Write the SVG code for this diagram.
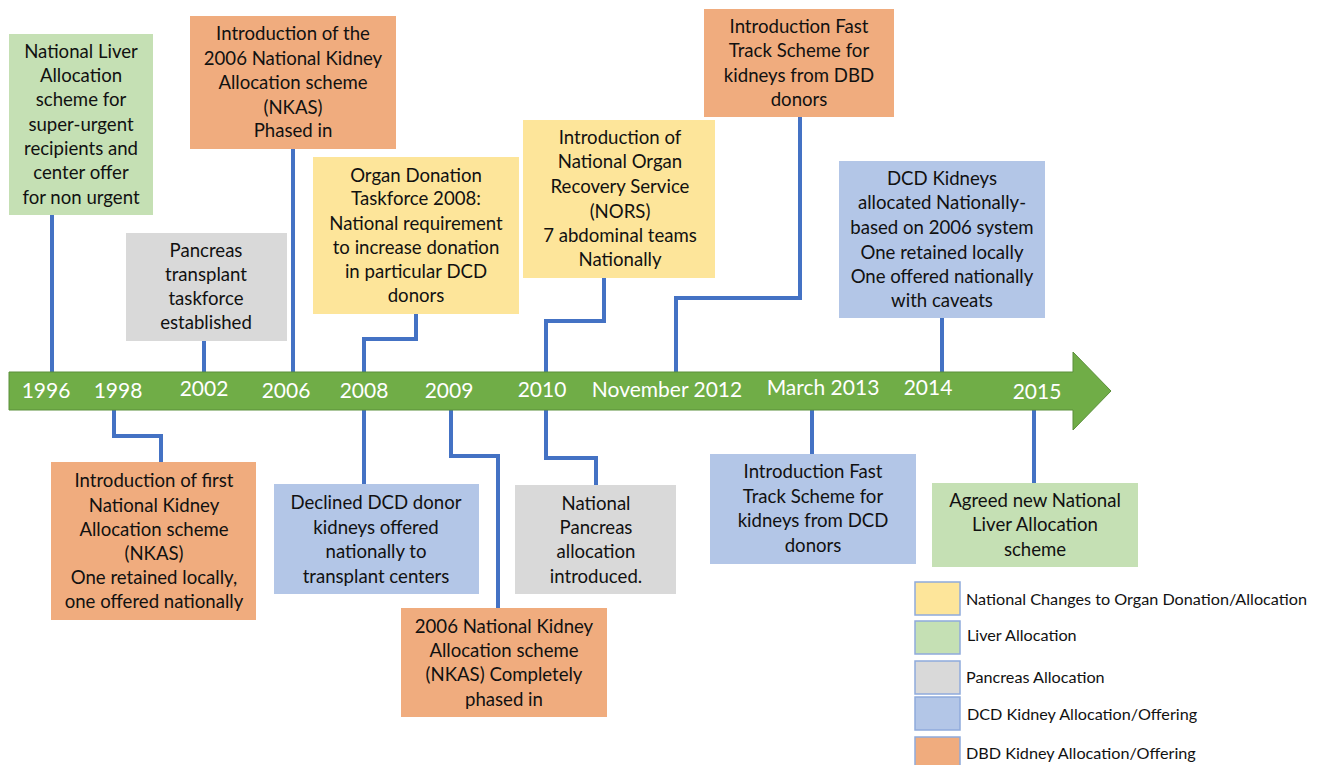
<svg xmlns="http://www.w3.org/2000/svg" width="1322" height="765" viewBox="0 0 1322 765">
<style>
.t{font-family:Lato,"Liberation Sans",sans-serif;font-size:18.6px;fill:#111;text-anchor:middle}
.y{font-family:Lato,"Liberation Sans",sans-serif;font-size:21px;fill:#fff;text-anchor:middle}
.l{font-family:Lato,"Liberation Sans",sans-serif;font-size:16.2px;fill:#111}
.c{fill:none;stroke:#4472C4;stroke-width:4}
.or{fill:#F0AC7E}.ye{fill:#FDE59A}.gr{fill:#C5E0B4}.gy{fill:#D9D9D9}.bl{fill:#B3C6E7}
.lg{stroke:#8FAADC;stroke-width:1.5}
</style>
<rect width="1322" height="765" fill="#fff"/>
<g id="connectors">
<path class="c" d="M52 215V372"/>
<path class="c" d="M204 341V372"/>
<path class="c" d="M293 149V372"/>
<path class="c" d="M416 314V339H364V372"/>
<path class="c" d="M604 278V321H546V372"/>
<path class="c" d="M800 117V298H676V372"/>
<path class="c" d="M942 318V372"/>
<path class="c" d="M114 410V436H161V462"/>
<path class="c" d="M364 410V484"/>
<path class="c" d="M451 410V456H498V608"/>
<path class="c" d="M546 410V458H596V485"/>
<path class="c" d="M812 410V454"/>
<path class="c" d="M1034 410V483"/>
</g>
<g id="timeline">
<path d="M9 372H1073V352L1111 391L1073 430V410H9Z" fill="#70AD47" stroke="#5B8F3A" stroke-width="1"/>
<text class="y" x="46" y="398">1996</text>
<text class="y" x="118" y="398">1998</text>
<text class="y" x="204" y="396">2002</text>
<text class="y" x="286" y="398">2006</text>
<text class="y" x="364" y="398">2008</text>
<text class="y" x="449" y="398">2009</text>
<text class="y" x="542" y="397">2010</text>
<text class="y" x="667" y="397">November 2012</text>
<text class="y" x="823" y="395">March 2013</text>
<text class="y" x="928" y="395">2014</text>
<text class="y" x="1037" y="399">2015</text>
</g>
<g id="n1"><rect class="gr" x="9" y="34" width="144" height="181"/>
<text class="t" x="81"><tspan x="81" y="58">National Liver</tspan><tspan x="81" y="82">Allocation</tspan><tspan x="81" y="106">scheme for</tspan><tspan x="81" y="131">super-urgent</tspan><tspan x="81" y="155">recipients and</tspan><tspan x="81" y="179">center offer</tspan><tspan x="81" y="204">for non urgent</tspan></text></g>
<g id="n2"><rect class="or" x="190" y="16" width="206" height="133"/>
<text class="t"><tspan x="293" y="40">Introduction of the</tspan><tspan x="293" y="65">2006 National Kidney</tspan><tspan x="293" y="89">Allocation scheme</tspan><tspan x="293" y="114">(NKAS)</tspan><tspan x="293" y="137">Phased in</tspan></text></g>
<g id="n3"><rect class="gy" x="126" y="233" width="161" height="108"/>
<text class="t"><tspan x="206" y="257">Pancreas</tspan><tspan x="206" y="281">transplant</tspan><tspan x="206" y="305">taskforce</tspan><tspan x="206" y="329">established</tspan></text></g>
<g id="n4"><rect class="ye" x="313" y="157" width="206" height="157"/>
<text class="t"><tspan x="416" y="182">Organ Donation</tspan><tspan x="416" y="205">Taskforce 2008:</tspan><tspan x="416" y="230">National requirement</tspan><tspan x="416" y="254">to increase donation</tspan><tspan x="416" y="278">in particular DCD</tspan><tspan x="416" y="302">donors</tspan></text></g>
<g id="n5"><rect class="ye" x="523" y="120" width="192" height="158"/>
<text class="t"><tspan x="620" y="144">Introduction of</tspan><tspan x="620" y="168">National Organ</tspan><tspan x="620" y="193">Recovery Service</tspan><tspan x="620" y="218">(NORS)</tspan><tspan x="620" y="242">7 abdominal teams</tspan><tspan x="620" y="266">Nationally</tspan></text></g>
<g id="n6"><rect class="or" x="704" y="9" width="190" height="108"/>
<text class="t"><tspan x="799" y="33">Introduction Fast</tspan><tspan x="799" y="57">Track Scheme for</tspan><tspan x="799" y="82">kidneys from DBD</tspan><tspan x="799" y="106">donors</tspan></text></g>
<g id="n7"><rect class="bl" x="839" y="161" width="206" height="157"/>
<text class="t"><tspan x="942" y="185">DCD Kidneys</tspan><tspan x="942" y="209">allocated Nationally-</tspan><tspan x="942" y="234">based on 2006 system</tspan><tspan x="942" y="259">One retained locally</tspan><tspan x="942" y="283">One offered nationally</tspan><tspan x="942" y="307">with caveats</tspan></text></g>
<g id="n8"><rect class="or" x="51" y="462" width="205" height="158"/>
<text class="t"><tspan x="154" y="487">Introduction of first</tspan><tspan x="154" y="512">National Kidney</tspan><tspan x="154" y="536">Allocation scheme</tspan><tspan x="154" y="560">(NKAS)</tspan><tspan x="154" y="584">One retained locally,</tspan><tspan x="154" y="608">one offered nationally</tspan></text></g>
<g id="n9"><rect class="bl" x="274" y="484" width="205" height="110"/>
<text class="t"><tspan x="376" y="509">Declined DCD donor</tspan><tspan x="376" y="534">kidneys offered</tspan><tspan x="376" y="558">nationally to</tspan><tspan x="376" y="583">transplant centers</tspan></text></g>
<g id="n10"><rect class="gy" x="515" y="485" width="161" height="109"/>
<text class="t"><tspan x="596" y="510">National</tspan><tspan x="596" y="534">Pancreas</tspan><tspan x="596" y="558">allocation</tspan><tspan x="596" y="583">introduced.</tspan></text></g>
<g id="n11"><rect class="or" x="401" y="608" width="206" height="109"/>
<text class="t"><tspan x="504" y="633">2006 National Kidney</tspan><tspan x="504" y="657">Allocation scheme</tspan><tspan x="504" y="681">(NKAS) Completely</tspan><tspan x="504" y="706">phased in</tspan></text></g>
<g id="n12"><rect class="bl" x="710" y="454" width="206" height="110"/>
<text class="t"><tspan x="813" y="478">Introduction Fast</tspan><tspan x="813" y="503">Track Scheme for</tspan><tspan x="813" y="527">kidneys from DCD</tspan><tspan x="813" y="552">donors</tspan></text></g>
<g id="n13"><rect class="gr" x="932" y="483" width="206" height="84"/>
<text class="t"><tspan x="1035" y="507">Agreed new National</tspan><tspan x="1035" y="531">Liver Allocation</tspan><tspan x="1035" y="556">scheme</tspan></text></g>
<g id="legend">
<rect class="ye lg" x="915" y="582" width="45" height="33"/>
<rect class="gr lg" x="915" y="621" width="45" height="33"/>
<rect class="gy lg" x="915" y="661" width="45" height="33"/>
<rect class="bl lg" x="915" y="697" width="45" height="33"/>
<rect class="or lg" x="915" y="737" width="45" height="33"/>
<text class="l" x="966" y="605">National Changes to Organ Donation/Allocation</text>
<text class="l" x="967" y="641">Liver Allocation</text>
<text class="l" x="966" y="683">Pancreas Allocation</text>
<text class="l" x="967" y="720">DCD Kidney Allocation/Offering</text>
<text class="l" x="966" y="759">DBD Kidney Allocation/Offering</text>
</g>
</svg>
